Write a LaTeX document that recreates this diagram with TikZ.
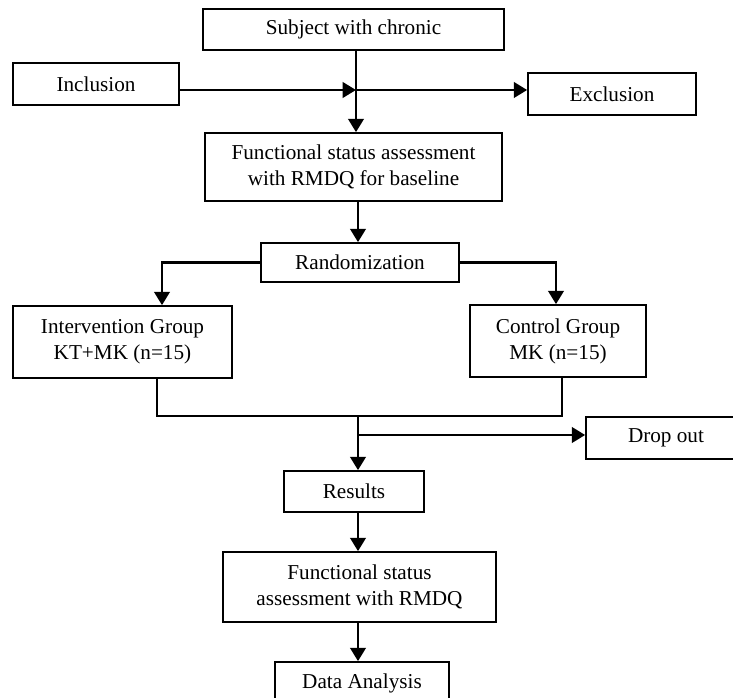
\documentclass[tikz,border=0pt]{standalone}
\usepackage{fontspec}
\setmainfont{Liberation Serif}
\usetikzlibrary{arrows.meta,calc}

\begin{document}
\begin{tikzpicture}[
    x=0.75pt, y=-0.75pt,
    >={Triangle[length=10pt,width=11.5pt]},
    box/.style={rectangle, draw, line width=1.2pt, inner sep=0pt, align=center,
                font=\fontsize{15.9}{19.5}\selectfont},
    arr/.style={->, line width=2.2pt},
    link/.style={line width=0.8pt}
  ]
  \useasboundingbox (0,0) rectangle (733,698);

  \node[box, minimum width=225.75pt, minimum height=30.75pt] (subj) at (353.5,29.5) {Subject with chronic};
  \node[box, minimum width=124.5pt, minimum height=31.5pt] (incl) at (96,84) {Inclusion};
  \node[box, minimum width=126pt, minimum height=31.5pt] (excl) at (612,94) {Exclusion};
  \node[box, minimum width=222.75pt, minimum height=51pt] (fs1) at (353.5,167) {Functional status assessment\\with RMDQ for baseline};
  \node[box, minimum width=148.5pt, minimum height=29.25pt] (rand) at (360,262.5) {Randomization};
  \node[box, minimum width=164.25pt, minimum height=54pt] (interv) at (122.5,342) {Intervention Group\\KT+MK (n=15)};
  \node[box, minimum width=132pt, minimum height=54pt] (ctrl) at (558,341) {Control Group\\MK (n=15)};
  \node[box, minimum width=120pt, minimum height=31.5pt] (drop) at (666,438) {Drop out};
  \node[box, minimum width=105pt, minimum height=30.75pt] (res) at (354,491.5) {Results};
  \node[box, minimum width=204.75pt, minimum height=52.5pt] (fs2) at (359.5,587) {Functional status\\assessment with RMDQ};
  \node[box, minimum width=130.5pt, minimum height=31.5pt] (data) at (362,683) {Data Analysis};

  \coordinate (jn) at (356,90);
  \coordinate (mg) at (358,416);
  \coordinate (br) at (358,435);

  \draw[arr] (subj.south -| jn) -- (fs1.north -| jn);
  \draw[arr] (incl.east |- jn) -- (jn);
  \draw[arr] (jn) -- (excl.west |- jn);
  \draw[arr] (fs1.south -| mg) -- (rand.north -| mg);
  \draw[arr] (rand.west) -| ($(interv.north)+(39.5,0)$);
  \draw[arr] (rand.east) -| ($(ctrl.north)+(-2,0)$);
  \draw[link] ($(interv.south)+(34.5,0)$) |- (mg) -| ($(ctrl.south)+(4,0)$);
  \draw[arr] (mg) -- (res.north -| mg);
  \draw[arr] (br) -- (drop.west |- br);
  \draw[arr] (res.south -| mg) -- (fs2.north -| mg);
  \draw[arr] (fs2.south -| mg) -- (data.north -| mg);
\end{tikzpicture}
\end{document}
